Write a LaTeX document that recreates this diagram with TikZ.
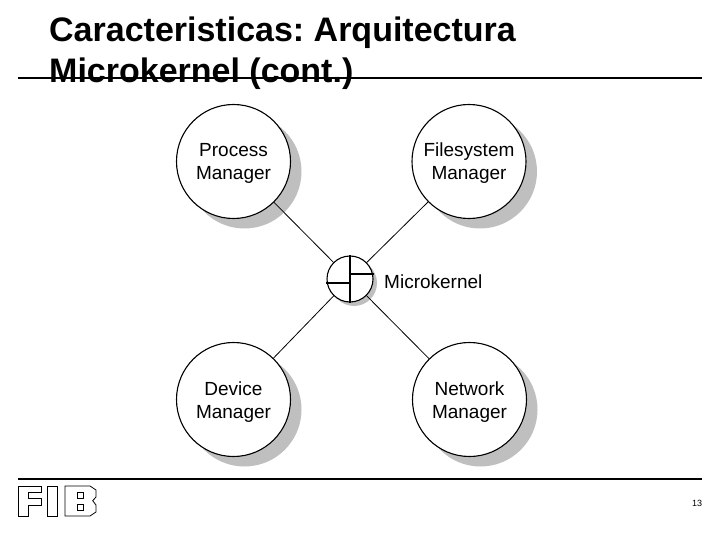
\documentclass[tikz,border=0pt]{standalone}
\usepackage{fontspec}
\setmainfont{Liberation Sans}
\frenchspacing
\tikzstyle{manager} = [draw, circle, fill=white, line width=1.1pt, minimum size=114pt, inner sep=0pt, align=center, font=\fontsize{19}{23}\selectfont, text height=41pt, text depth=4pt]
\tikzstyle{shade} = [circle, fill=black!25, inner sep=0pt]
\tikzstyle{rule} = [line width=1.5pt]
\tikzstyle{logo} = [line width=0.8pt]

\begin{document}
\begin{tikzpicture}[x=1pt, y=-1pt]
  \useasboundingbox (0,0) rectangle (720,540);
  % Title
  \node[anchor=north west, align=left, inner sep=0pt, font=\fontsize{34}{41}\selectfont\bfseries] (title) at (49,17) {Caracteristicas: Arquitectura\\Microkernel (cont.)};
  \coordinate (ruleA) at (18,78);
  \coordinate (ruleB) at (702,78);
  \draw[rule] (ruleA) -- (ruleB);
  % Shadows
  \foreach \x/\y in {233.5/161.5, 469/161.5, 233.5/399.5, 469.5/399.5} {
    \node[shade, minimum size=114pt] (shadow) at (\x+11, \y+10) {};
  }
  \node[shade, minimum size=46pt] (kshadow) at (354,283) {};
  % Managers
  \node[manager] (process) at (233.5,161.5) {Process\\Manager};
  \node[manager] (filesystem) at (469,161.5) {Filesystem\\Manager};
  \node[manager] (device) at (233.5,399.5) {Device\\Manager};
  \node[manager] (network) at (469.5,399.5) {Network\\Manager};
  % Microkernel
  \node[draw, circle, fill=white, line width=1.1pt, minimum size=46pt, inner sep=0pt] (kernel) at (350,279) {};
  \node[anchor=west, inner sep=0pt, font=\fontsize{19}{22}\selectfont] (klabel) at (384,282) {Microkernel};
  \draw[line width=1.2pt] (kernel.north) -- (kernel.south);
  \draw[line width=1.2pt] (kernel.center) ++(0,4) coordinate (kl) -- (kernel.west |- kl);
  \draw[line width=1.2pt] (kernel.center) ++(0,-5) coordinate (kr) -- (kernel.east |- kr);
  % Connectors
  \foreach \name in {process, filesystem, device, network} {
    \draw[line width=0.8pt] (\name) -- (kernel);
  }
  % Footer
  \coordinate (footA) at (18,479);
  \coordinate (footB) at (702,479);
  \draw[rule] (footA) -- (footB);
  \draw[logo] (18,486) -- (41.7,486) -- (41.7,492.7) -- (28.3,492.7) -- (28.3,498.3) -- (41.7,498.3) -- (41.7,505) -- (28.3,505) -- (28.3,516) -- (18,516) -- cycle;
  \draw[logo] (47.7,486) rectangle (57.7,516);
  \draw[logo] (65,486) -- (90,486) -- (96,490) -- (96,497) -- (92.7,500.7) -- (96,505) -- (96,512) -- (90,516) -- (65,516) -- cycle;
  \draw[logo] (77.7,492.7) rectangle (83.3,498.3);
  \draw[logo] (77.7,504.3) rectangle (83.3,510);
  \node[inner sep=0pt, font=\fontsize{9}{10}\selectfont] (page) at (697,503.5) {13};
\end{tikzpicture}
\end{document}
